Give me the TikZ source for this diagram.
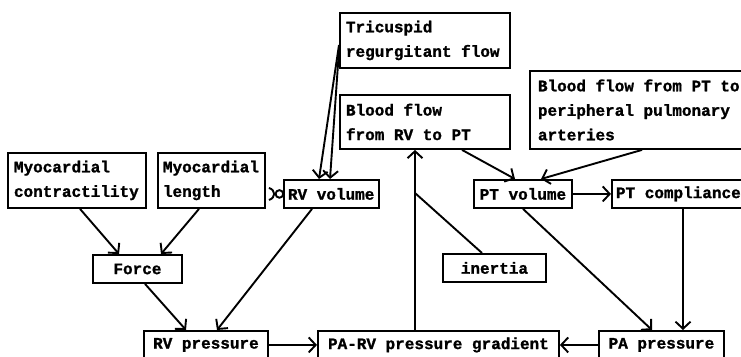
\documentclass[tikz,border=0pt]{standalone}
\usepackage{fontspec}
\setmainfont{Liberation Mono}[BoldFeatures={FakeBold=1.2}]
\usetikzlibrary{arrows.meta,calc}
\newcommand\monospacing{\spaceskip=9.6pt plus 0pt minus 0pt\relax\xspaceskip=9.6pt plus 0pt minus 0pt\relax}
\begin{document}
\begin{tikzpicture}[x=1pt,y=-1pt,
  box/.style={draw, line width=1.9pt, rectangle, anchor=north west,
    font=\bfseries\fontsize{16}{24.5}\selectfont, inner ysep=0pt,
    execute at begin node=\monospacing},
  arr/.style={line width=1.9pt, -{Straight Barb[length=7pt,width=15pt]}},
  ln/.style={line width=1.9pt}]
\useasboundingbox (0,0) rectangle (741,356);
\clip (0,0) rectangle (741,356);
\fill[white] (0,0) rectangle (741,356);

\node[box, minimum width=138, minimum height=55, inner xsep=6, text width=126, align=left] (myoc) at (7,152) {Myocardial\\contractility};
\node[box, minimum width=107, minimum height=55, inner xsep=5, text width=97, align=left] (myol) at (157,152) {Myocardial\\length};
\node[box, minimum width=95, minimum height=28, inner xsep=4, text width=87, align=left] (rvvol) at (283,179) {RV volume};
\node[box, minimum width=89, minimum height=28, inner xsep=4, text width=81, align=center] (force) at (92,254) {Force};
\node[box, minimum width=124, minimum height=28, inner xsep=4, text width=116, align=center] (rvp) at (143,330) {RV pressure};
\node[box, minimum width=241, minimum height=28, inner xsep=4, text width=233, align=center] (parv) at (317,330) {PA-RV pressure gradient};
\node[box, minimum width=125, minimum height=28, inner xsep=4, text width=117, align=center] (pap) at (598,330) {PA pressure};
\node[box, minimum width=103, minimum height=28, inner xsep=4, text width=95, align=center] (inertia) at (442,253) {inertia};
\node[box, minimum width=98, minimum height=28, inner xsep=4, text width=90, align=center] (ptvol) at (473,179) {PT volume};
\node[box, minimum width=150, minimum height=28, inner xsep=4, text width=142, align=left] (ptc) at (611,179) {PT compliance};
\node[box, minimum width=170, minimum height=55, inner xsep=6, text width=158, align=left] (tric) at (339,12) {Tricuspid\\regurgitant flow};
\node[box, minimum width=170, minimum height=54, inner xsep=6, text width=158, align=left] (bfrv) at (339,94) {Blood flow\\from RV to PT};
\node[box, minimum width=240, minimum height=78, inner xsep=8, text width=224, align=left] (bfpt) at (529,70) {Blood flow from PT to\\peripheral pulmonary\\arteries};

% connectors
\draw[arr] ($(tric.north west)+(0,33)$) -- ($(rvvol.north west)+(36,0)$);
\draw[arr] ($(tric.north west)+(0,38)$) -- ($(rvvol.north west)+(47,0)$);
\draw[arr] ($(myoc.south west)+(73,0)$) -- ($(force.north west)+(27,0)$);
\draw[arr] ($(myol.south west)+(42,0)$) -- ($(force.north west)+(69,0)$);
\draw[arr] ($(force.south west)+(53,0)$) -- ($(rvp.north west)+(43,0)$);
\draw[arr] ($(rvvol.south west)+(29,0)$) -- ($(rvp.north west)+(74,0)$);
\draw[arr] (rvp.east) -- (parv.west);
\draw[arr] (pap.west) -- (parv.east);
\draw[arr] ($(parv.north west)+(98,0)$) -- ($(bfrv.south west)+(76,0)$);
\coordinate (inr) at ($(parv.north west)+(98,-137)$);
\draw[ln] ($(inertia.north west)+(40,0)$) -- (inr);
\draw[arr] ($(bfrv.south west)+(123,0)$) -- ($(ptvol.north west)+(42,0)$);
\draw[arr] ($(bfpt.south west)+(113,0)$) -- ($(ptvol.north west)+(68,0)$);
\draw[arr] (ptvol.east) -- (ptc.west);
\draw[arr] ($(ptvol.south west)+(50,0)$) -- ($(pap.north west)+(54,0)$);
\draw[arr] ($(ptc.south west)+(72,0)$) -- ($(pap.north west)+(85,0)$);

% special link between myocardial length and RV volume
\coordinate (sA) at (rvvol.west -| myol.east);
\draw[line width=1.9pt] ($(sA)+(3,-6)$) .. controls ($(sA)+(10,-4)$) and ($(sA)+(10,4)$) .. ($(sA)+(3,6)$);
\draw[line width=1.9pt] ($(sA)+(8,0)$) -- ($(sA)+(10,0)$);
\draw[line width=1.9pt] ($(sA)+(13.5,0)$) circle[radius=3.8];
\end{tikzpicture}
\end{document}
